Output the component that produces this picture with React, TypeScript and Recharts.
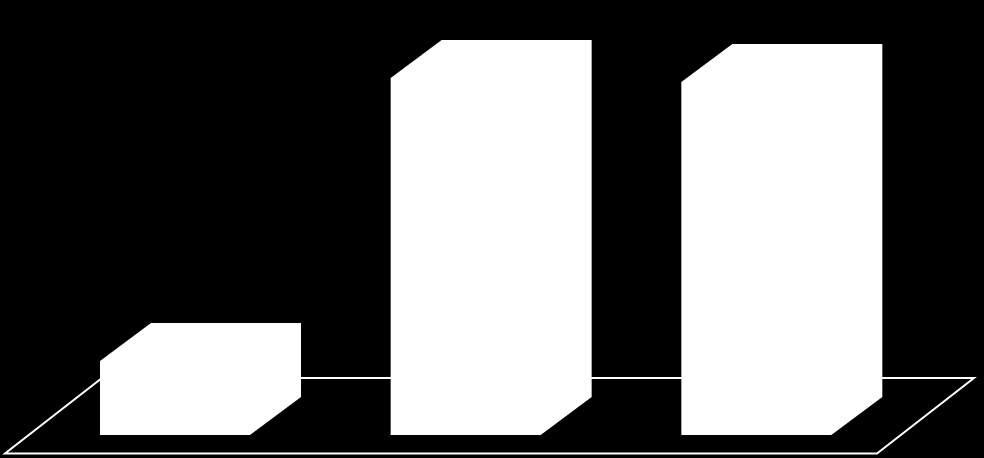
import React from "react";
import { BarChart, Bar, XAxis, YAxis } from "recharts";

const categories = ["A", "B", "C"];
const values = [20.7, 100, 98.9];

const data = categories.map((c, i) => ({ name: c, value: values[i] }));

const W = 984;
const H = 458;
const MARGIN = { top: 78, right: 82, bottom: 23, left: 30 };
const BAR_DX = 51;
const BAR_DY = 38;
const FLOOR_DX = 97;
const FLOOR_DY = 75.5;
const FRONT_INSET_DX = 25;
const FRONT_INSET_DY = 18.5;

const Box3D = (props: any) => {
  const { x, y, width, height } = props;
  if (width == null || height == null) return null;
  const x2 = x + width;
  const y2 = y + height;
  const pts = [
    [x, y2],
    [x, y],
    [x + BAR_DX, y - BAR_DY],
    [x2 + BAR_DX, y - BAR_DY],
    [x2 + BAR_DX, y2 - BAR_DY],
    [x2, y2],
  ]
    .map((p) => p.join(","))
    .join(" ");
  return <polygon points={pts} fill="#ffffff" stroke="none" />;
};

export default function App() {
  const plotLeft = MARGIN.left;
  const plotRight = W - MARGIN.right;
  const baseY = H - MARGIN.bottom;
  const fl = plotLeft - FRONT_INSET_DX;
  const fr = plotRight - FRONT_INSET_DX;
  const fy = baseY + FRONT_INSET_DY;
  const floor = `${fl},${fy} ${fr},${fy} ${fr + FLOOR_DX},${fy - FLOOR_DY} ${fl + FLOOR_DX},${fy - FLOOR_DY}`;
  return (
    <div style={{ position: "absolute", left: 0, top: 0, width: W, height: H, background: "#000" }}>
      <svg width={W} height={H} style={{ position: "absolute", left: 0, top: 0 }}>
        <polygon points={floor} fill="none" stroke="#ffffff" strokeWidth={2} />
      </svg>
      <div style={{ position: "absolute", left: 0, top: 0 }}>
        <BarChart width={W} height={H} data={data} margin={MARGIN}>
          <XAxis dataKey="name" hide />
          <YAxis hide domain={[0, 100]} />
          <Bar dataKey="value" barSize={150} shape={<Box3D />} isAnimationActive={false} />
        </BarChart>
      </div>
    </div>
  );
}
